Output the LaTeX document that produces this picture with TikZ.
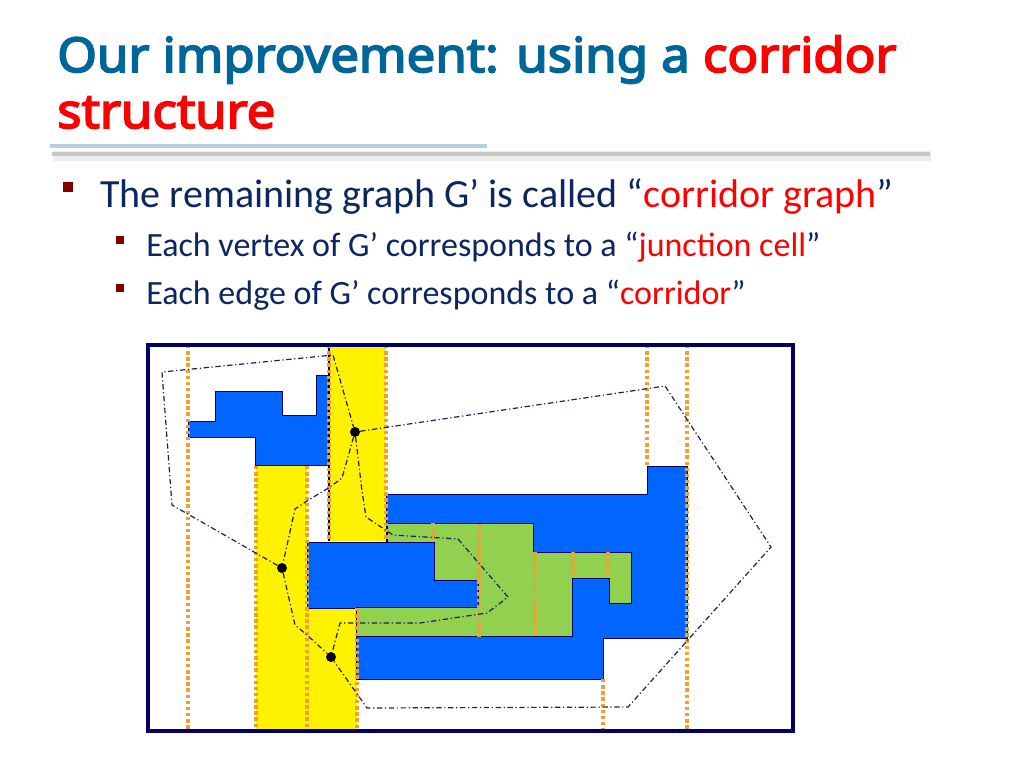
\documentclass[tikz,border=0pt]{standalone}
\usepackage{fontspec}
\usepackage{xcolor}
\usepackage{tikz}
\usetikzlibrary{positioning,calc}
\setmainfont{Carlito}
\newfontfamily\titlefont{Noto Sans}[FakeBold=3.6,FakeStretch=1.06]
\definecolor{ttlblue}{RGB}{0,102,153}
\definecolor{txtnavy}{RGB}{12,38,96}
\definecolor{bulred}{RGB}{128,0,0}
\definecolor{barblue}{RGB}{184,204,228}
\definecolor{blkblue}{RGB}{0,102,255}
\definecolor{cellgreen}{RGB}{146,208,80}
\definecolor{cutorange}{RGB}{240,160,48}
\definecolor{framenavy}{RGB}{0,0,102}
\definecolor{edgenavy}{RGB}{30,30,90}
\tikzset{titletext/.style={anchor=base west,inner sep=0pt,font=\titlefont\fontsize{36}{40}\selectfont,text=ttlblue}}
\tikzset{bodytext/.style={anchor=base west,inner sep=0pt,font=\fontsize{30}{34}\selectfont,text=txtnavy}}
\tikzset{subtext/.style={anchor=base west,inner sep=0pt,font=\fontsize{25.5}{30}\selectfont,text=txtnavy}}
\tikzset{bulsq/.style={fill=bulred,inner sep=0pt,minimum size=#1}}
\tikzset{obstacle/.style={fill=blkblue,draw=framenavy,line width=0.6pt}}
\tikzset{cutline/.style={cutorange,line width=3pt,dash pattern=on 2.6pt off 2pt}}
\tikzset{gedge/.style={edgenavy,line width=0.9pt,dash pattern=on 4pt off 2pt on 0.9pt off 2pt}}
\tikzset{junction/.style={circle,fill=black,inner sep=0pt,minimum size=7.5pt}}

\begin{document}
\begin{tikzpicture}[x=0.75pt,y=-0.75pt]
  \useasboundingbox (0,0) rectangle (1024,768);

  % title
  \node[titletext] (ttl1) at (57,72) {Our improvement: using a \textcolor{red}{corridor}};
  \node[titletext] (ttl2) at (57,128) {\textcolor{red}{structure}};
  \draw[gray!15,line width=7pt] (53,156) -- (931,156);
  \draw[gray!45,line width=3.5pt] (52,154) -- (930,154);
  \draw[barblue,line width=3.5pt] (50,146) -- (487,146);

  % bullets
  \node[bulsq=7pt] (b1) at (68,187) {};
  \node[bodytext] (l1) at (100,207) {The remaining graph G’ is called “\textcolor{red}{corridor graph}”};
  \node[bulsq=6.5pt] (b2) at (120,240) {};
  \node[subtext] (l2) at (146,256) {Each vertex of G’ corresponds to a “\textcolor{red}{junction cell}”};
  \node[bulsq=6.5pt] (b3) at (120,288) {};
  \node[subtext] (l3) at (146,304) {Each edge of G’ corresponds to a “\textcolor{red}{corridor}”};

  % corridors
  \fill[yellow] (329,345) rectangle (386,541);
  \fill[yellow] (256,466) rectangle (307,731);
  \fill[yellow] (307,608) rectangle (357,731);

  % obstacles
  \draw[obstacle] (188,421) -- (215,421) -- (215,391) -- (282,391) -- (282,415) -- (316,415)
    -- (316,375) -- (329,375) -- (329,465) -- (255,465) -- (255,437) -- (188,437) -- cycle;
  \draw[obstacle] (386,494) -- (647,494) -- (647,466) -- (687,466) -- (687,638) -- (603,638)
    -- (603,679) -- (356,679) -- (356,608) -- (307,608) -- (307,542) -- (386,542) -- cycle;
  \draw[obstacle,fill=cellgreen] (387,523) -- (533,523) -- (533,552) -- (631,552) -- (631,603)
    -- (609,603) -- (609,578) -- (572,578) -- (572,636) -- (356,636) -- (356,607) -- (478,607)
    -- (478,580) -- (434,580) -- (434,542) -- (387,542) -- cycle;
  \draw[framenavy,line width=0.8pt] (329,345) -- (329,541);

  % cuts
  \foreach \x/\ya/\yb in {188/345/731,256/466/731,307/466/731,329/345/541,386/345/541,
      357/608/731,433/523/542,479/525/637,535/552/637,573/552/578,608/552/578,
      647/345/466,687/345/731,603/679/731}
    \draw[cutline] (\x,\ya) -- (\x,\yb);

  % corridor graph
  \node[junction] (j1) at (355,432) {};
  \node[junction] (j2) at (282,568) {};
  \node[junction] (j3) at (331,657) {};
  \coordinate (top) at (333,355);
  \coordinate (tl) at (162,372);
  \coordinate (bl) at (172,505);
  \coordinate (tr) at (665,386);
  \coordinate (er) at (771,547);
  \coordinate (br) at (628,707);
  \coordinate (bm) at (367,708);
  \draw[gedge] (j2) -- (bl) -- (tl) -- (top) -- (j1);
  \draw[gedge] (j1) -- (tr) -- (er) -- (br) -- (bm) -- (j3);
  \draw[gedge] (j1) -- (342,478) -- (330,487) -- (307,501) -- (295,509) -- (j2);
  \draw[gedge] (j1) -- (362,491) -- (366,517) -- (387,531) -- (393,535) -- (458,539)
    -- (508,597) -- (487,613) -- (420,623) -- (340,623) -- (j3);
  \draw[gedge] (j2) -- (295,625) -- (307,635) -- (j3);

  % frame
  \draw[framenavy,line width=2.4pt] (148,345) rectangle (793,731);
\end{tikzpicture}
\end{document}
